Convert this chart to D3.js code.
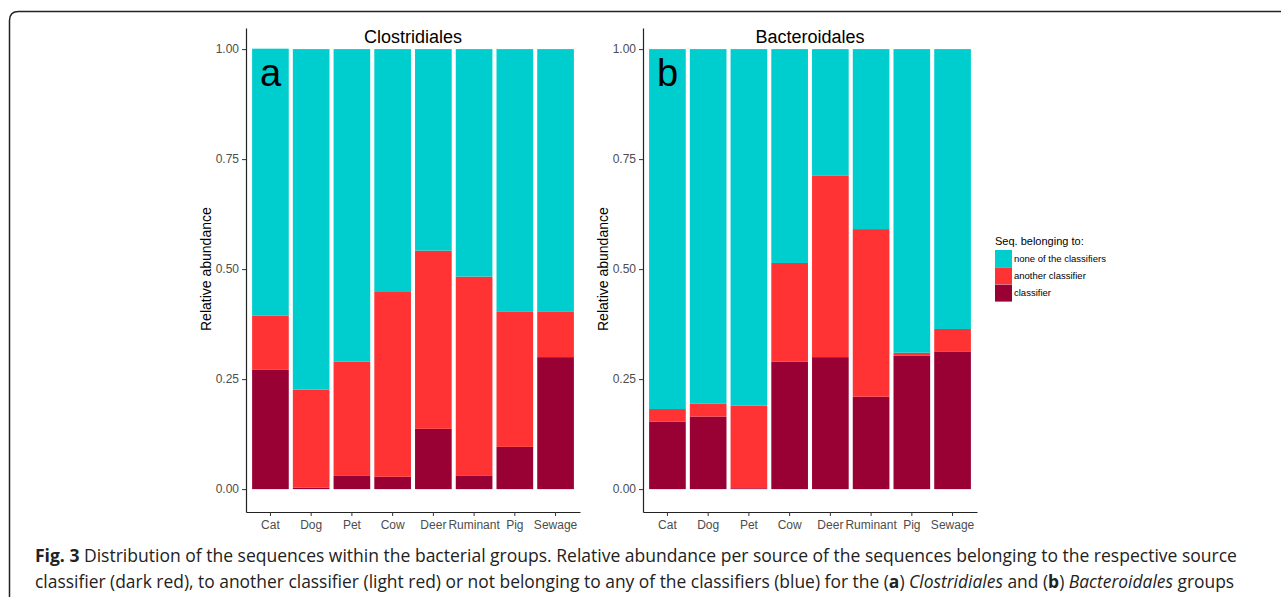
<!DOCTYPE html>
<html>
<head>
<meta charset="utf-8">
<script src="https://cdn.jsdelivr.net/npm/d3@7"></script>
<style>
  body { margin: 0; background: #fff; }
  svg { display: block; }
</style>
</head>
<body>
<svg id="fig" width="1281" height="597"></svg>
<script>
const sources = ["Cat", "Dog", "Pet", "Cow", "Deer", "Ruminant", "Pig", "Sewage"];
const yTicks = [0, 0.25, 0.5, 0.75, 1];

// Clostridiales (panel a)
const clostClassifier = [0.271, 0.003, 0.030, 0.028, 0.137, 0.030, 0.096, 0.300];
const clostAnother    = [0.123, 0.223, 0.260, 0.420, 0.405, 0.453, 0.308, 0.104];
const clostNone       = [0.607, 0.774, 0.710, 0.552, 0.458, 0.517, 0.596, 0.596];

// Bacteroidales (panel b)
const bactClassifier = [0.153, 0.165, 0.002, 0.290, 0.300, 0.210, 0.303, 0.313];
const bactAnother    = [0.029, 0.029, 0.188, 0.224, 0.413, 0.381, 0.007, 0.051];
const bactNone       = [0.818, 0.806, 0.810, 0.486, 0.287, 0.409, 0.690, 0.636];

const keys = ["classifier", "another", "none"];
const legendLabels = ["none of the classifiers", "another classifier", "classifier"];
const colors = { classifier: "#990033", another: "#ff3333", none: "#00cdcd" };

const svg = d3.select("#fig");
const font = "'Liberation Sans', Arial, sans-serif";

// frame around the figure
svg.append("path")
  .attr("d", "M9.5,597 V20.5 Q9.5,11.5 18.5,11.5 H1281")
  .attr("fill", "none")
  .attr("stroke", "#222")
  .attr("stroke-width", 1.5);

const y = d3.scaleLinear().domain([-0.052, 1.048]).range([512, 28]);

function panel(left, right, title, letter, cls, ano, none) {
  const rows = sources.map((s, i) => ({ source: s, classifier: cls[i], another: ano[i], none: none[i] }));
  const series = d3.stack().keys(keys)(rows);

  const x = d3.scaleBand()
    .domain(sources)
    .range([left, right])
    .paddingInner(0.1)
    .paddingOuter(0.15);

  const g = svg.append("g");

  g.selectAll("g.layer")
    .data(series)
    .enter()
    .append("g")
    .attr("class", "layer")
    .attr("fill", d => colors[d.key])
    .selectAll("rect")
    .data(d => d)
    .enter()
    .append("rect")
    .attr("x", d => x(d.data.source))
    .attr("width", x.bandwidth())
    .attr("y", d => y(d[1]))
    .attr("height", d => y(d[0]) - y(d[1]));

  const yAxis = g.append("g")
    .attr("transform", `translate(${left},0)`)
    .call(d3.axisLeft(y).tickValues(yTicks).tickFormat(d3.format(".2f")).tickSize(4).tickSizeOuter(0).tickPadding(3));

  const xAxis = g.append("g")
    .attr("transform", `translate(0,512)`)
    .call(d3.axisBottom(x).tickSize(4).tickSizeOuter(0).tickPadding(4));

  [yAxis, xAxis].forEach(a => {
    a.select(".domain").attr("stroke", "#222").attr("stroke-width", 1.2);
    a.selectAll(".tick line").attr("stroke", "#333");
    a.selectAll(".tick text")
      .attr("fill", "#4d4d4d")
      .attr("font-family", font)
      .attr("font-size", "12px");
  });

  g.append("text")
    .attr("x", (left + right) / 2)
    .attr("y", 43)
    .attr("text-anchor", "middle")
    .attr("font-family", font)
    .attr("font-size", "18px")
    .text(title);

  g.append("text")
    .attr("x", x(sources[0]) + 8)
    .attr("y", 86)
    .attr("font-family", font)
    .attr("font-size", "38px")
    .text(letter);

  g.append("text")
    .attr("transform", `translate(${left - 35},${y(0.5)}) rotate(-90)`)
    .attr("text-anchor", "middle")
    .attr("font-family", font)
    .attr("font-size", "14px")
    .text("Relative abundance");
}

panel(246, 580, "Clostridiales", "a", clostClassifier, clostAnother, clostNone);
panel(643, 977, "Bacteroidales", "b", bactClassifier, bactAnother, bactNone);

// legend
const legend = svg.append("g").attr("transform", "translate(995,245)");
legend.append("text")
  .attr("font-family", font)
  .attr("font-size", "11px")
  .text("Seq. belonging to:");

const legendKeys = ["none", "another", "classifier"];
legend.selectAll("g.key")
  .data(legendKeys)
  .enter()
  .append("g")
  .attr("class", "key")
  .attr("transform", (d, i) => `translate(0,${5 + i * 17.3})`)
  .each(function (d, i) {
    const k = d3.select(this);
    k.append("rect")
      .attr("width", 17)
      .attr("height", 17)
      .attr("fill", colors[d]);
    k.append("text")
      .attr("x", 19)
      .attr("y", 11.5)
      .attr("font-family", font)
      .attr("font-size", "9.5px")
      .text(legendLabels[i]);
  });

// caption - squeezed horizontally to the reference line widths
const capFont = "'Open Sans', 'Noto Sans', sans-serif";

function captionLine(yPos, width, parts) {
  const t = svg.append("text")
    .attr("font-family", capFont)
    .attr("font-size", "18px")
    .attr("fill", "#222");
  parts.forEach(p => {
    const s = t.append("tspan").text(p.text);
    if (p.bold) s.attr("font-weight", "bold");
    if (p.italic) s.attr("font-style", "italic");
  });
  const len = t.node().getComputedTextLength();
  t.attr("transform", `translate(35,${yPos}) scale(${width / len},1)`);
}

captionLine(562, 1203, [
  { text: "Fig. 3", bold: true },
  { text: " Distribution of the sequences within the bacterial groups. Relative abundance per source of the sequences belonging to the respective source" }
]);

captionLine(588, 1200, [
  { text: "classifier (dark red), to another classifier (light red) or not belonging to any of the classifiers (blue) for the (" },
  { text: "a", bold: true },
  { text: ") " },
  { text: "Clostridiales", italic: true },
  { text: " and (" },
  { text: "b", bold: true },
  { text: ") " },
  { text: "Bacteroidales", italic: true },
  { text: " groups" }
]);
</script>
</body>
</html>
